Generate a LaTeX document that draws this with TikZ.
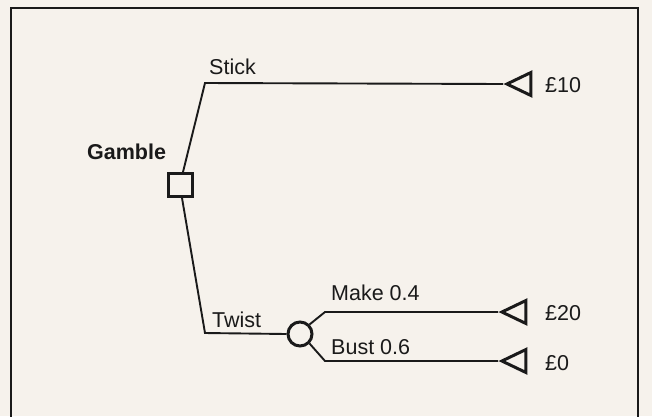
\documentclass[tikz,border=0pt]{standalone}
\usepackage{fontspec}
\setmainfont{Liberation Sans}
\usetikzlibrary{shapes.geometric}
\definecolor{paper}{HTML}{F6F2EC}
\definecolor{ink}{HTML}{1A1A1A}
\begin{document}
\begin{tikzpicture}[x=1pt,y=-1pt,
  branch/.style={draw=ink,line width=1.9pt},
  box/.style={draw=ink,line width=3pt,minimum width=24pt,minimum height=23pt,inner sep=0pt,fill=paper},
  chance/.style={draw=ink,line width=3pt,circle,minimum size=24pt,inner sep=0pt,fill=paper},
  endtri/.style={draw=ink,line width=3pt,isosceles triangle,isosceles triangle stretches,shape border rotate=180,minimum width=23pt,minimum height=24pt,inner sep=0pt},
  lbl/.style={anchor=west,inner sep=0pt,font=\fontsize{21.5}{24}\selectfont,text=ink}]
\useasboundingbox (0,0) rectangle (652,416);
\fill[paper] (0,0) rectangle (652,416);
\draw[ink,line width=2.2pt] (11,430) -- (11,8) -- (638,8) -- (638,430);
% nodes
\node[box] (sq) at (180,185) {};
\node[chance] (ch) at (300,334) {};
\coordinate (cs) at (205,83);
\coordinate (ct) at (205,333);
\coordinate (cm) at (325,312);
\coordinate (cb) at (325,361);
\node[endtri,anchor=apex] (t1) at (503,84) {};
\node[endtri,anchor=apex] (t2) at (498,312) {};
\node[endtri,anchor=apex] (t3) at (498,361) {};
% branches
\draw[branch] ([xshift=3pt]sq.north) -- (cs) -- (t1.apex);
\draw[branch] ([xshift=2pt]sq.south) -- (ct) -- (ch.west);
\draw[branch] (ch.45) -- (cm) -- (t2.apex);
\draw[branch] (ch.-45) -- (cb) -- (t3.apex);
% labels
\node[lbl,font=\fontsize{21.5}{24}\selectfont\bfseries] (g) at (87,152) {Gamble};
\node[lbl] (ls) at (209,67) {Stick};
\node[lbl] (lt) at (212,320) {Twist};
\node[lbl] (lm) at (331,293) {Make 0.4};
\node[lbl] (lb) at (331,347) {Bust 0.6};
\node[lbl] (v1) at (545,85) {£10};
\node[lbl] (v2) at (545,313) {£20};
\node[lbl] (v3) at (545,363) {£0};
\end{tikzpicture}
\end{document}
